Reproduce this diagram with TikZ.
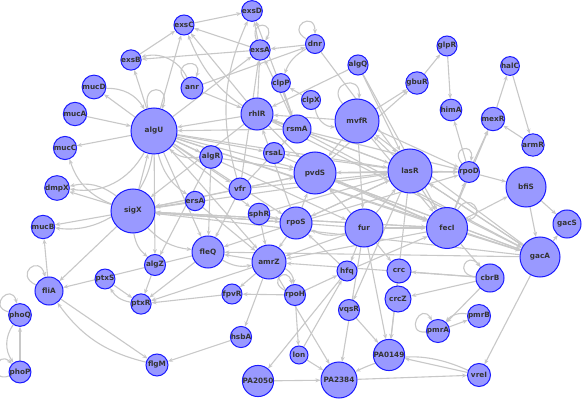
\documentclass[tikz,border=0pt]{standalone}
\usepackage{fontspec}
\setmainfont{DejaVu Sans}
\usetikzlibrary{arrows.meta}
\pgfdeclarelayer{bg}
\pgfdeclarelayer{edges}
\pgfsetlayers{bg,edges,main}
\definecolor{nfill}{HTML}{9999FF}
\definecolor{nline}{HTML}{1A1AFF}
\definecolor{ecol}{HTML}{C8C8C8}
\definecolor{tcol}{HTML}{333333}
\newcommand\nd[5]{\node[gn,minimum size={#4*2pt}] (#1) at (#2,#3) {#5};}
\newcommand\sloop[4]{\draw[edge] (#1) to[out=#2,in=#3,min distance=#4pt] (#1);}
\begin{document}
\begin{tikzpicture}[x=1pt,y=-1pt,
  gn/.style={circle,draw=nline,fill=nfill,line width=1pt,inner sep=0pt,text=tcol,font=\fontsize{7.3}{8}\selectfont\bfseries},
  edge/.style={draw=ecol,line width=1.1pt,-{Stealth[length=5pt,width=4pt]}}]
\useasboundingbox (0,0) rectangle (583,403);
\begin{pgfonlayer}{bg}
\fill[white] (0,0) rectangle (583,403);
\end{pgfonlayer}
% nodes
\nd{exsC}{184}{25}{8}{exsC}
\nd{exsD}{252}{11}{8}{exsD}
\nd{exsB}{131}{60}{8}{exsB}
\nd{exsA}{260}{50}{8.5}{exsA}
\nd{dnr}{315}{44}{9.5}{dnr}
\nd{anr}{192}{88}{11}{anr}
\nd{mucD}{94}{87}{7.5}{mucD}
\nd{mucA}{75}{114}{7.5}{mucA}
\nd{algU}{154}{131}{23}{algU}
\nd{clpP}{281}{83}{9}{clpP}
\nd{clpX}{311}{100}{8}{clpX}
\nd{rhlR}{257}{114}{16}{rhlR}
\nd{rsmA}{297}{129}{14}{rsmA}
\nd{mvfR}{357}{121}{22}{mvfR}
\nd{algQ}{358}{65}{7.5}{algQ}
\nd{glpR}{447}{46}{10}{glpR}
\nd{gbuR}{417}{83}{10.5}{gbuR}
\nd{himA}{451}{110}{10}{himA}
\nd{halC}{510}{66}{8}{halC}
\nd{mexR}{493}{119}{8}{mexR}
\nd{armR}{533}{145}{8}{armR}
\nd{mucC}{65}{148}{8}{mucC}
\nd{algR}{211}{157}{11.3}{algR}
\nd{rsaL}{274}{153}{10.5}{rsaL}
\nd{pvdS}{315}{173}{21}{pvdS}
\nd{lasR}{410}{171}{22}{lasR}
\nd{rpoD}{469}{172}{8}{rpoD}
\nd{bfiS}{526}{187}{20}{bfiS}
\nd{dmpX}{57}{188}{8}{dmpX}
\nd{sigX}{133}{211}{22}{sigX}
\nd{ersA}{195}{201}{8.7}{ersA}
\nd{vfr}{240}{189}{11}{vfr}
\nd{sphR}{259}{214}{10.5}{sphR}
\nd{rpoS}{296}{223}{16}{rpoS}
\nd{fur}{364}{228}{19}{fur}
\nd{fecI}{447}{228}{20.5}{fecI}
\nd{gacS}{567}{224}{14}{gacS}
\nd{gacA}{540}{257}{20}{gacA}
\nd{mucB}{43}{227}{10}{mucB}
\nd{fleQ}{208}{252}{16}{fleQ}
\nd{amrZ}{269}{262}{17}{amrZ}
\nd{algZ}{155}{265}{10.5}{algZ}
\nd{hfq}{347}{271}{10}{hfq}
\nd{crc}{399}{271}{12}{crc}
\nd{crcZ}{398}{299}{13}{crcZ}
\nd{cbrB}{490}{278}{14}{cbrB}
\nd{fliA}{49}{291}{14}{fliA}
\nd{ptxS}{105}{279}{8}{ptxS}
\nd{ptxR}{141}{304}{8}{ptxR}
\nd{fpvR}{232}{294}{9}{fpvR}
\nd{rpoH}{295}{295}{10}{rpoH}
\nd{vqsR}{349}{310}{10}{vqsR}
\nd{pmrB}{479}{316}{8}{pmrB}
\nd{pmrA}{438}{331}{8}{pmrA}
\nd{phoQ}{20}{315}{8}{phoQ}
\nd{phoP}{20}{372}{8}{phoP}
\nd{hsbA}{241}{337}{10.5}{hsbA}
\nd{flgM}{157}{365}{11}{flgM}
\nd{lon}{299}{355}{9}{lon}
\nd{PA0149}{389}{355}{14}{PA0149}
\nd{PA2050}{258}{381}{10}{PA2050}
\nd{PA2384}{339}{380}{18}{PA2384}
\nd{vreI}{479}{375}{11.5}{vreI}
\begin{pgfonlayer}{edges}
\foreach \a/\b in {exsC/exsD,exsB/exsC,exsA/exsB,exsA/exsC,exsA/exsD,algU/exsB,algU/exsC,algU/exsA,
 rhlR/exsA,rsmA/exsA,vfr/exsA,dnr/exsA,anr/dnr,clpX/clpP,rhlR/exsC,rsmA/exsD,algQ/rhlR,algQ/lasR,algQ/fecI,
 gbuR/glpR,glpR/himA,rpoD/himA,rpoD/mexR,mexR/halC,halC/armR,armR/mexR,rpoD/bfiS,bfiS/gacS,bfiS/gacA,gacA/gacS,
 mvfR/gbuR,pvdS/gbuR,lasR/rpoD,pvdS/rpoD,rsmA/rpoD,mvfR/rpoD,rpoS/rpoD,fecI/rpoD,fecI/mexR,fecI/bfiS,
 algU/mucD,mucA/algU,algU/mucC,sigX/algU,algU/pvdS,algU/lasR,algU/rsaL,algU/fleQ,algU/amrZ,algU/vfr,algU/rpoS,
 algU/algZ,algU/fur,algU/fecI,algU/algR,sigX/dmpX,sigX/mucB,sigX/fliA,sigX/lasR,pvdS/sigX,fur/sigX,fecI/sigX,gacA/sigX,
 rpoS/sigX,ersA/sigX,vfr/sigX,rhlR/sigX,algR/algZ,algZ/ptxR,ptxS/ptxR,fleQ/ptxR,amrZ/ptxR,fpvR/ptxR,fleQ/fliA,
 amrZ/fleQ,rpoS/fleQ,amrZ/fpvR,amrZ/hsbA,amrZ/PA2384,rpoH/fpvR,rpoH/lon,rpoH/hfq,hsbA/flgM,fliA/flgM,fliA/mucB,
 phoP/phoQ,lon/PA2384,PA2050/PA2384,hfq/PA2050,lon/hfq,PA2384/vreI,vreI/PA0149,gacA/vreI,cbrB/crcZ,cbrB/pmrA,pmrA/pmrB,
 crc/PA0149,vqsR/PA0149,fur/PA0149,fur/PA2384,fur/hfq,fur/crc,fecI/cbrB,fecI/gacA,lasR/fecI,lasR/gacA,lasR/rsaL,
 lasR/rhlR,lasR/pvdS,lasR/mvfR,lasR/rpoS,pvdS/gacA,rsmA/gacA,rhlR/gacA,mvfR/pvdS,mvfR/rhlR,mvfR/fur,rpoS/pvdS,
 rpoS/rhlR,rpoS/lasR,rpoS/amrZ,rhlR/algU,rhlR/pvdS,vfr/lasR,vfr/fleQ,sphR/amrZ,sphR/rpoS,ersA/amrZ,rsmA/algU,
 rsmA/rhlR,fur/pvdS,fur/lasR,fur/fecI,fur/amrZ,fecI/amrZ,cbrB/crc,hfq/rpoS,hfq/fecI,lasR/vqsR,lasR/PA0149,
 algR/fleQ,anr/rhlR,clpP/rsmA,gacA/lasR,gacA/pvdS,gacA/mvfR,cbrB/amrZ,gacA/fleQ,dnr/lasR,mvfR/fecI,pvdS/fecI,
 rsaL/fecI,vfr/rsmA,sigX/rpoS,algU/sphR,algR/pvdS,sigX/fecI,algU/gacA,rhlR/lasR,vfr/pvdS,sphR/lasR}
 {\draw[edge] (\a) -- (\b);}
\foreach \a/\b/\c in {algR/algU/25,flgM/fliA/20,ptxR/ptxS/25,phoQ/phoP/-35,pmrB/pmrA/-30,vreI/PA2384/-25,
 clpX/mvfR/-40,sigX/mucC/25,algU/dmpX/35,sigX/dmpX/-25,algU/mucB/45,mucD/algU/30,sigX/algZ/-20,anr/exsB/-40,
 dnr/clpP/-20,rsmA/exsC/25,vfr/exsD/20,algU/ersA/-20,fleQ/amrZ/-20,amrZ/rpoH/30,sigX/fleQ/-20,fur/rpoS/20}
 {\draw[edge] (\a) to[bend left=\c] (\b);}
\sloop{exsA}{110}{60}{22}
\sloop{dnr}{150}{90}{24}
\sloop{anr}{130}{70}{22}
\sloop{algU}{105}{70}{26}
\sloop{mvfR}{130}{85}{26}
\sloop{rpoD}{130}{80}{20}
\sloop{fliA}{155}{105}{24}
\sloop{phoQ}{165}{105}{22}
\sloop{phoP}{200}{135}{22}
\sloop{pmrA}{185}{120}{22}
\sloop{rpoH}{155}{105}{20}
\sloop{cbrB}{175}{130}{22}
\sloop{fecI}{60}{20}{22}
\end{pgfonlayer}
\end{tikzpicture}
\end{document}
